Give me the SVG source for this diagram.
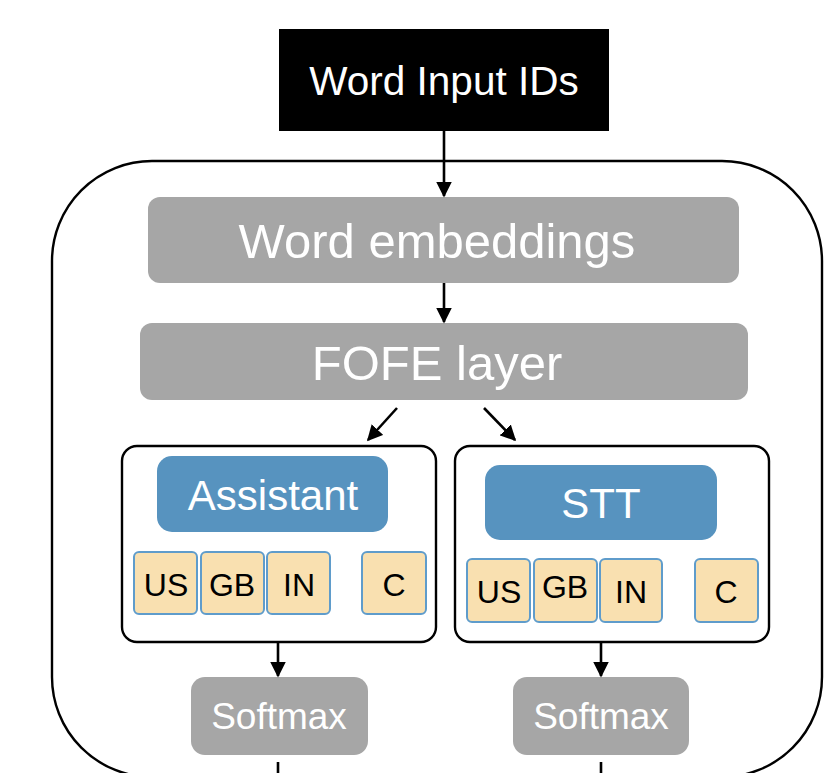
<svg xmlns="http://www.w3.org/2000/svg" width="837" height="773" viewBox="0 0 837 773">
  <style>
    text { font-family: "Liberation Sans", Arial, Helvetica, sans-serif; text-anchor: middle; }
    .gray { fill: #a6a6a6; }
    .blue { fill: #5793bf; }
    .flag { fill: #f9e0b0; stroke: #5f9ccb; stroke-width: 2; }
    .frame { fill: #ffffff; stroke: #000000; stroke-width: 2.4; }
    .wt { fill: #ffffff; }
    .bt { fill: #000000; font-size: 32px; }
    .conn { stroke: #000000; stroke-width: 2.6; fill: none; }
  </style>
  <defs>
    <marker id="arrow" viewBox="0 0 10 10" refX="9" refY="5" markerWidth="6" markerHeight="6" markerUnits="strokeWidth" orient="auto">
      <path d="M0,0 L10,5 L0,10 Z" fill="#000000"/>
    </marker>
  </defs>

  <rect width="837" height="773" fill="#ffffff"/>

  <!-- outer model container -->
  <g id="container">
    <rect x="52" y="161" width="770" height="616" rx="100" ry="100" fill="none" stroke="#000000" stroke-width="2.4"/>
  </g>

  <g id="word-input-ids">
    <rect x="279" y="29" width="330" height="102" fill="#000000"/>
    <text x="444" y="95" class="wt" font-size="40.5">Word Input IDs</text>
  </g>

  <g id="word-embeddings">
    <rect x="148" y="197" width="591" height="86" rx="12" class="gray"/>
    <text x="437" y="258" class="wt" font-size="49">Word embeddings</text>
  </g>

  <g id="fofe-layer">
    <rect x="140" y="323" width="608" height="77" rx="12" class="gray"/>
    <text x="437" y="380" class="wt" font-size="49">FOFE layer</text>
  </g>

  <g id="assistant-head">
    <rect x="122" y="446" width="314" height="196" rx="15" class="frame"/>
    <rect x="157" y="456" width="231" height="76" rx="15" class="blue"/>
    <text x="273" y="510" class="wt" font-size="42">Assistant</text>
    <rect x="134" y="552" width="63" height="62" rx="5" class="flag"/>
    <text x="166" y="596" class="bt">US</text>
    <rect x="201" y="552" width="63" height="62" rx="5" class="flag"/>
    <text x="232" y="596" class="bt">GB</text>
    <rect x="267" y="552" width="63" height="62" rx="5" class="flag"/>
    <text x="299" y="596" class="bt">IN</text>
    <rect x="362" y="552" width="64" height="62" rx="5" class="flag"/>
    <text x="394" y="596" class="bt">C</text>
  </g>

  <g id="stt-head">
    <rect x="455" y="446" width="314" height="196" rx="15" class="frame"/>
    <rect x="485" y="465" width="232" height="75" rx="15" class="blue"/>
    <text x="601" y="518" class="wt" font-size="42">STT</text>
    <rect x="467" y="559" width="63" height="63" rx="5" class="flag"/>
    <text x="499" y="603" class="bt">US</text>
    <rect x="534" y="559" width="63" height="63" rx="5" class="flag"/>
    <text x="565" y="598" class="bt">GB</text>
    <rect x="600" y="559" width="62" height="63" rx="5" class="flag"/>
    <text x="631" y="603" class="bt">IN</text>
    <rect x="695" y="559" width="63" height="63" rx="5" class="flag"/>
    <text x="726" y="603" class="bt">C</text>
  </g>

  <g id="softmax-assistant">
    <rect x="191" y="677" width="177" height="78" rx="14" class="gray"/>
    <text x="279" y="729" class="wt" font-size="37">Softmax</text>
  </g>

  <g id="softmax-stt">
    <rect x="513" y="677" width="176" height="78" rx="14" class="gray"/>
    <text x="601" y="729" class="wt" font-size="37">Softmax</text>
  </g>

  <g id="connectors">
    <line x1="444" y1="131" x2="444" y2="196" class="conn" marker-end="url(#arrow)"/>
    <line x1="444" y1="283" x2="444" y2="322" class="conn" marker-end="url(#arrow)"/>
    <line x1="397" y1="408" x2="368" y2="440" class="conn" marker-end="url(#arrow)"/>
    <line x1="484" y1="408" x2="515" y2="440" class="conn" marker-end="url(#arrow)"/>
    <line x1="278" y1="642" x2="278" y2="676" class="conn" marker-end="url(#arrow)"/>
    <line x1="601" y1="642" x2="601" y2="676" class="conn" marker-end="url(#arrow)"/>
    <line x1="278" y1="762" x2="278" y2="773" class="conn"/>
    <line x1="601" y1="762" x2="601" y2="773" class="conn"/>
  </g>
</svg>
